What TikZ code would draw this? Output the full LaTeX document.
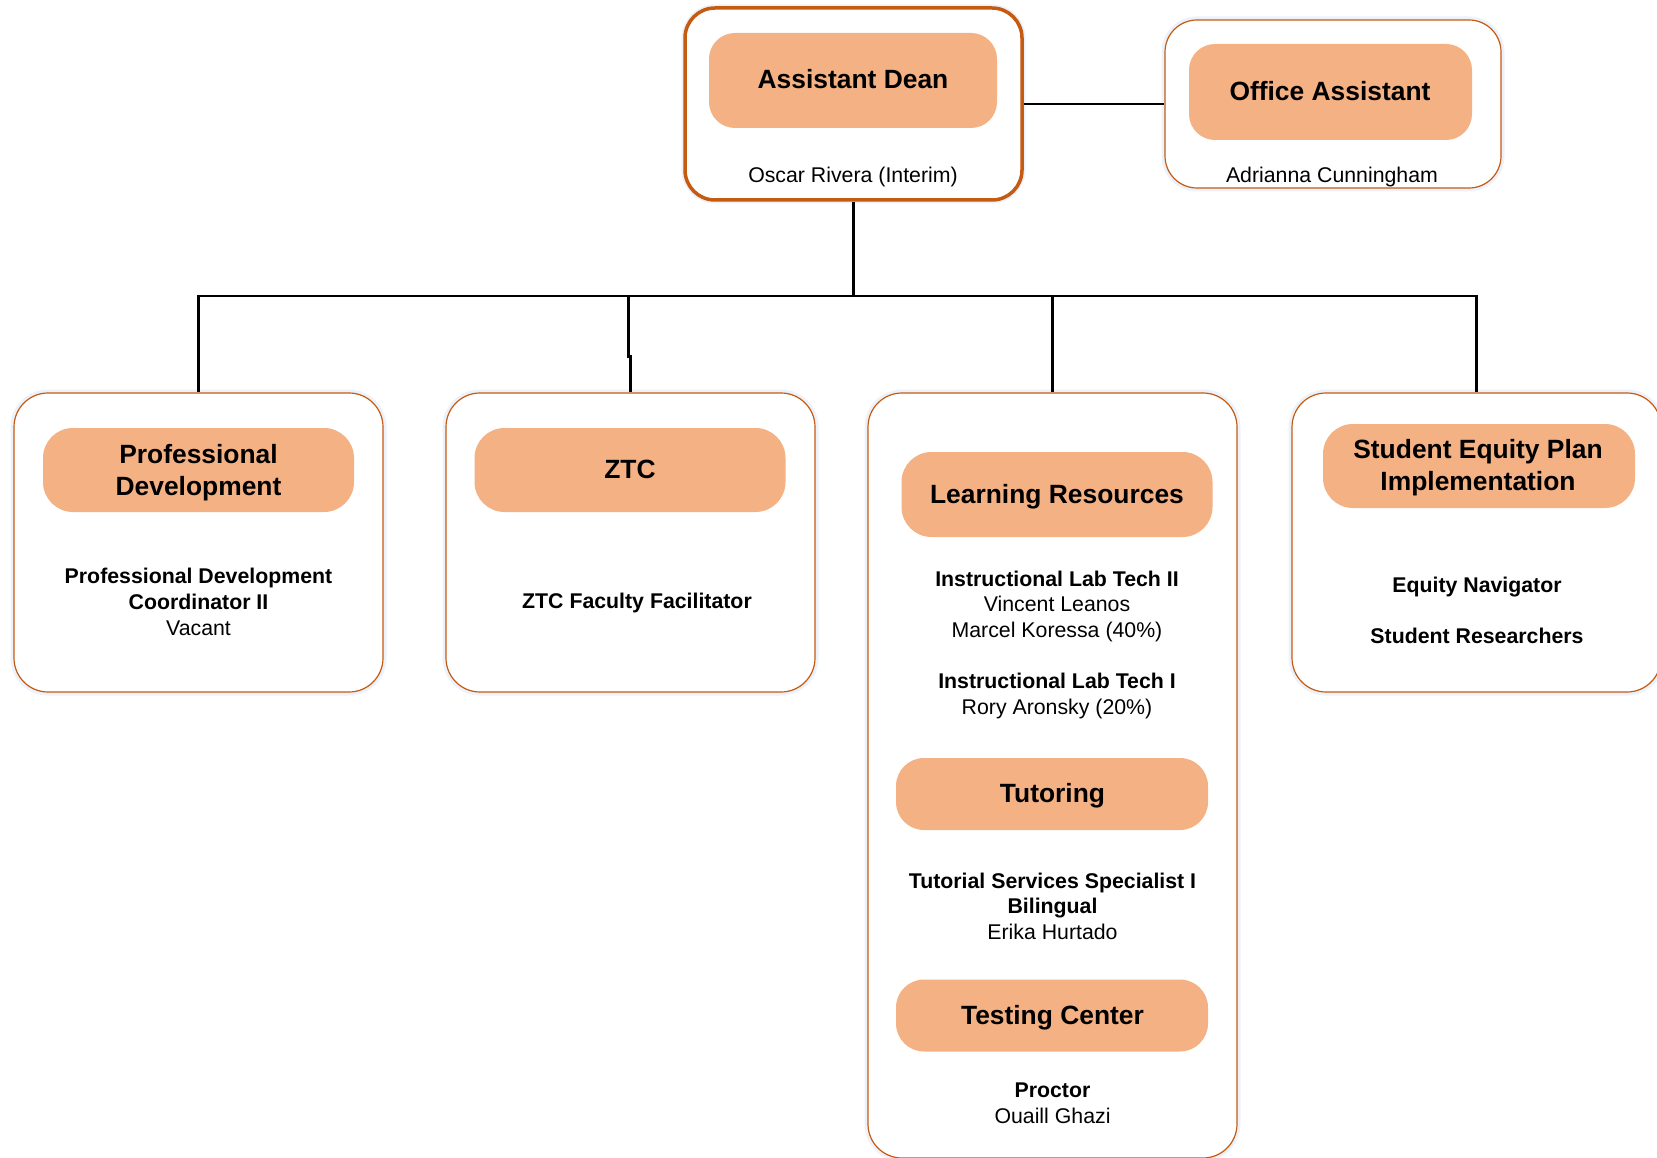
\documentclass[tikz,border=0pt]{standalone}
\usepackage{fontspec}
\setmainfont{Liberation Sans}
\definecolor{tfill}{HTML}{F4B183}
\definecolor{bline}{HTML}{C55A11}
\definecolor{glow}{HTML}{EDF2FA}
\tikzset{
  box/.style={draw=bline, line width=1.2pt, fill=white, rounded corners=34pt, inner sep=0pt,
    preaction={draw=glow, line width=7pt}},
  headbox/.style={fill=tfill, rounded corners=30pt, inner sep=0pt},
  title/.style={font=\fontsize{26.4}{32}\selectfont\bfseries, align=center, anchor=base, inner sep=0pt},
  body/.style={font=\fontsize{21.3}{25.8}\selectfont, align=center, anchor=base, inner sep=0pt},
  conn/.style={draw=black, line width=2.5pt},
}
\begin{document}
\begin{tikzpicture}[x=1pt,y=-1pt]
\useasboundingbox (0,0) rectangle (1657,1158);
% outer boxes
\node[box, line width=3.5pt, rounded corners=30pt, minimum width=337pt, minimum height=192pt] (ad) at (853.5,104) {};
\node[box, rounded corners=32pt, minimum width=336pt, minimum height=168pt] (oa) at (1333,104) {};
\node[box, minimum width=369pt, minimum height=299pt] (pd) at (198.5,542.5) {};
\node[box, minimum width=369pt, minimum height=299pt] (ztc) at (630.5,542.5) {};
\node[box, minimum width=369pt, minimum height=765pt] (lr) at (1052.5,775.5) {};
\node[box, minimum width=369pt, minimum height=299pt] (sep) at (1476.5,542.5) {};
% heading fills
\node[headbox, rounded corners=26pt, minimum width=288pt, minimum height=95pt] (adH) at (853,80.5) {};
\node[headbox, rounded corners=26pt, minimum width=283pt, minimum height=96pt] (oaH) at (1330.5,92) {};
\node[headbox, minimum width=311pt, minimum height=84pt] (pdH) at (198.5,470) {};
\node[headbox, minimum width=311pt, minimum height=84pt] (ztcH) at (630,470) {};
\node[headbox, minimum width=311pt, minimum height=85pt] (lrH) at (1057,494.5) {};
\node[headbox, rounded corners=28pt, minimum width=312pt, minimum height=72pt] (tuH) at (1052,794) {};
\node[headbox, rounded corners=28pt, minimum width=312pt, minimum height=72pt] (tcH) at (1052,1015.5) {};
\node[headbox, minimum width=312pt, minimum height=84pt] (sepH) at (1479,466) {};
% titles (anchor = baseline of last line)
\node[title] (adT) at (853,89) {Assistant Dean};
\node[title] (oaT) at (1330,101) {Office Assistant};
\node[title] (pdT) at (198.5,495) {Professional\\Development};
\node[title] (ztcT) at (630,478.5) {ZTC};
\node[title] (lrT) at (1057,503.5) {Learning Resources};
\node[title] (tuT) at (1052.5,802.5) {Tutoring};
\node[title] (tcT) at (1052.5,1024) {Testing Center};
\node[title] (sepT) at (1478,490) {Student Equity Plan\\Implementation};
% body texts
\node[body] (adN) at (853,183) {Oscar Rivera (Interim)};
\node[body] (oaN) at (1332,183) {Adrianna Cunningham};
\node[body] (pdN) at (198.5,635) {\textbf{Professional Development}\\\textbf{Coordinator II}\\Vacant};
\node[body] (ztcN) at (637,608.6) {\textbf{ZTC Faculty Facilitator}};
\node[body] (lrN1) at (1057,637.6) {\textbf{Instructional Lab Tech II}\\Vincent Leanos\\Marcel Koressa (40\%)};
\node[body] (lrN2) at (1057,714.6) {\textbf{Instructional Lab Tech I}\\Rory Aronsky (20\%)};
\node[body] (tuN) at (1052.5,939.6) {\textbf{Tutorial Services Specialist I}\\\textbf{Bilingual}\\Erika Hurtado};
\node[body] (tcN) at (1052.5,1123) {\textbf{Proctor}\\Ouaill Ghazi};
\node[body] (sepN1) at (1477,592.5) {\textbf{Equity Navigator}};
\node[body] (sepN2) at (1477,643.5) {\textbf{Student Researchers}};
% connectors
\coordinate (bus) at (853.5,296);
\draw[conn] (ad.east) -- (oa.west);
\draw[conn] (ad.south) -- (bus);
\draw[conn] (bus) -| (pd.north);
\draw[conn] (bus) -| ([xshift=-2pt,yshift=36pt]ztc.north) -- ([yshift=36pt]ztc.north) -- (ztc.north);
\draw[conn] (bus) -| (lr.north);
\draw[conn] (bus) -| (sep.north);
\end{tikzpicture}
\end{document}
